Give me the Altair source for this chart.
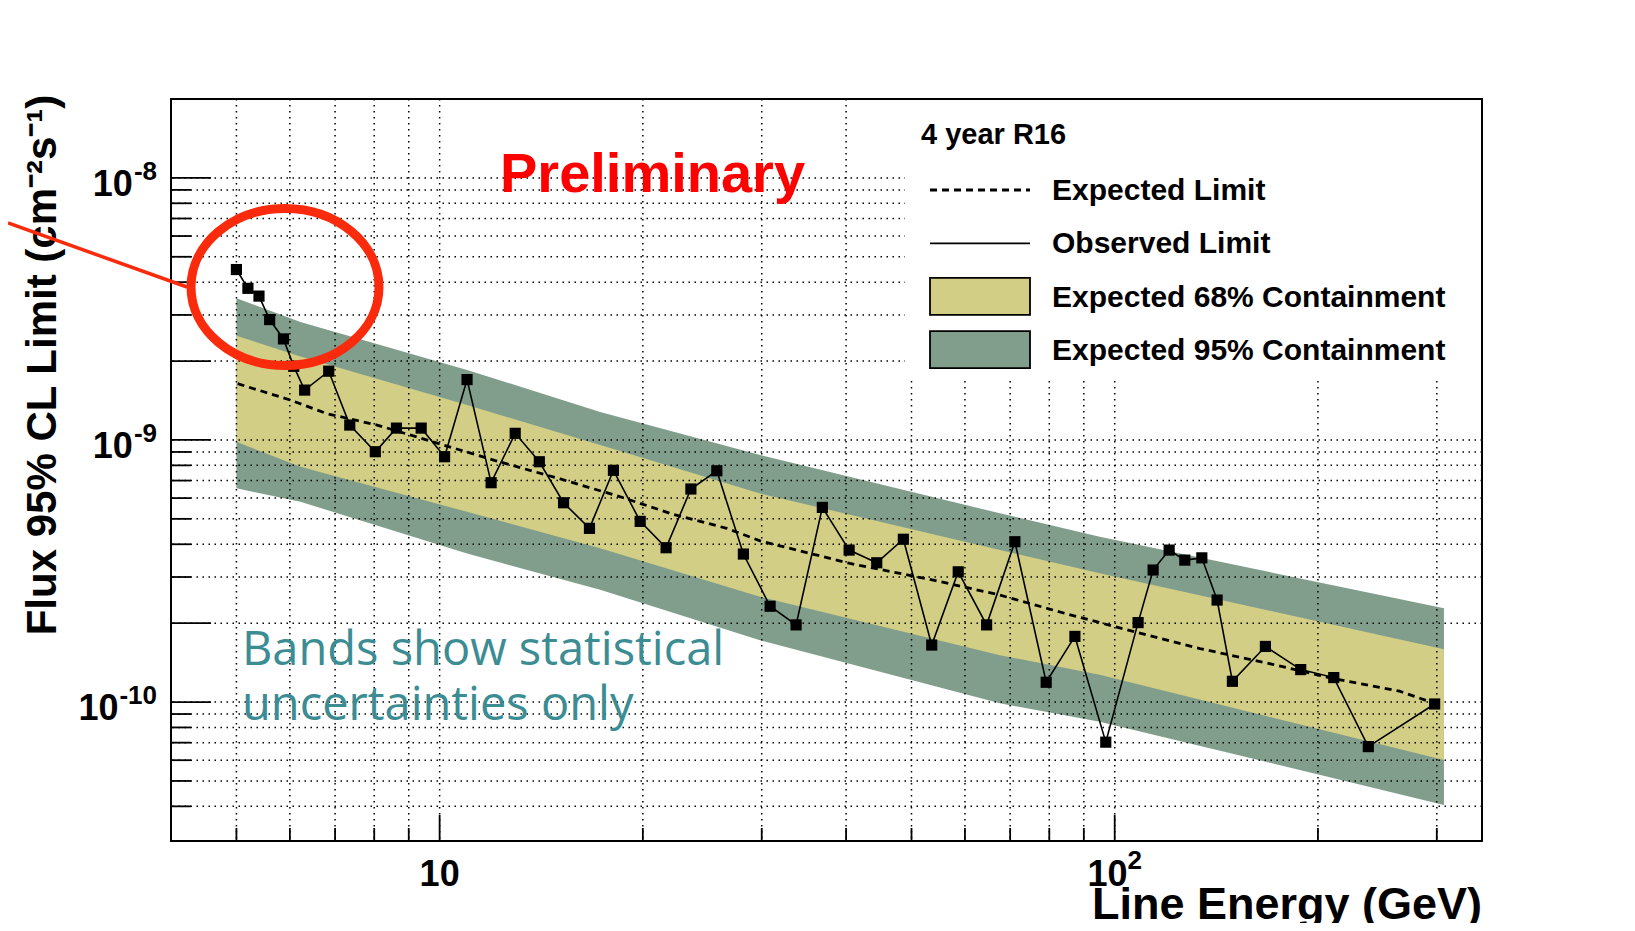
import altair as alt
import pandas as pd

# ---------------- data ----------------
obs_energy = [5.00, 5.20, 5.40, 5.60, 5.87, 6.08, 6.31, 6.85, 7.36, 8.03, 8.63, 9.39,
              10.17, 10.98, 11.92, 12.94, 14.05, 15.26, 16.67, 18.09, 19.82, 21.65,
              23.56, 25.74, 28.18, 30.87, 33.73, 36.89, 40.42, 44.41, 48.63, 53.57,
              58.64, 64.6, 71.14, 79.16, 87.3, 97.0, 108.3, 114.0, 120.4, 127.0,
              134.6, 141.8, 149.4, 167.2, 188.6, 211.1, 237.5, 297.8]
obs_limit = [4.47e-9, 3.79e-9, 3.54e-9, 2.88e-9, 2.43e-9, 1.91e-9, 1.55e-9, 1.83e-9,
             1.14e-9, 9.02e-10, 1.11e-9, 1.11e-9, 8.63e-10, 1.70e-9, 6.87e-10, 1.06e-9,
             8.26e-10, 5.76e-10, 4.60e-10, 7.66e-10, 4.89e-10, 3.88e-10, 6.50e-10,
             7.63e-10, 3.67e-10, 2.32e-10, 1.97e-10, 5.53e-10, 3.80e-10, 3.40e-10,
             4.18e-10, 1.65e-10, 3.14e-10, 1.97e-10, 4.09e-10, 1.19e-10, 1.78e-10,
             7.03e-11, 2.01e-10, 3.19e-10, 3.80e-10, 3.48e-10, 3.55e-10, 2.45e-10,
             1.20e-10, 1.63e-10, 1.33e-10, 1.24e-10, 6.76e-11, 9.83e-11]

exp_energy = [5.02, 6.01, 6.81, 8.08, 10.14, 12.02, 15.09, 18.52, 22.20, 26.63, 29.83,
              40.54, 53.86, 67.6, 84.9, 106.5, 133.7, 167.8, 210.6, 264.2, 295.7]
exp_limit = [1.64e-9, 1.42e-9, 1.26e-9, 1.14e-9, 9.56e-10, 8.38e-10, 7.10e-10, 6.07e-10,
             5.20e-10, 4.60e-10, 4.12e-10, 3.38e-10, 2.92e-10, 2.56e-10, 2.17e-10,
             1.86e-10, 1.60e-10, 1.41e-10, 1.23e-10, 1.10e-10, 9.95e-11]

band_energy = [5.0, 6.22, 10.98, 17.29, 29.83, 67.6, 95.0, 307.4]
band95_hi = [3.47e-9, 2.82e-9, 1.85e-9, 1.28e-9, 8.76e-10, 5.25e-10, 4.27e-10, 2.28e-10]
band68_hi = [2.50e-9, 2.08e-9, 1.36e-9, 9.56e-10, 6.25e-10, 3.80e-10, 3.10e-10, 1.59e-10]
band68_lo = [9.84e-10, 7.90e-10, 5.32e-10, 3.86e-10, 2.52e-10, 1.51e-10, 1.27e-10, 6.01e-11]
band95_lo = [6.54e-10, 5.81e-10, 3.69e-10, 2.68e-10, 1.72e-10, 9.89e-11, 8.42e-11, 4.05e-11]

x_grid = [5, 6, 7, 8, 9, 10, 20, 30, 40, 50, 60, 70, 80, 90, 100, 200, 300]
x_long_ticks = [10, 100]
y_grid = [4e-11, 5e-11, 6e-11, 7e-11, 8e-11, 9e-11,
          1e-10, 2e-10, 3e-10, 4e-10, 5e-10, 6e-10, 7e-10, 8e-10, 9e-10,
          1e-9, 2e-9, 3e-9, 4e-9, 5e-9, 6e-9, 7e-9, 8e-9, 9e-9, 1e-8]
y_long_ticks = [1e-10, 2e-10, 1e-9, 2e-9, 1e-8]

x_label_vals = [10, 100]
x_label_exp = ["", "2"]
y_label_vals = [1e-8, 1e-9, 1e-10]
y_label_exp = ["-8", "-9", "-10"]

legend_header = "4 year R16"
legend_labels = ["Expected Limit", "Observed Limit",
                 "Expected 68% Containment", "Expected 95% Containment"]
x_title = "Line Energy (GeV)"
y_title = "Flux 95% CL Limit (cm\u207b\u00b2s\u207b\u00b9)"
prelim_text = "Preliminary"
note_lines = ["Bands show statistical", "uncertainties only"]

# ---------------- style ----------------
W, H = 1311, 742
GREEN = "#809e8b"
YELLOW = "#d3ce86"
RED = "#fa2a0c"
TEAL = "#3c8c93"
FONT = "Liberation Sans"

xs = alt.Scale(type="log", domain=[4, 350], nice=False)
ys = alt.Scale(type="log", domain=[2.95e-11, 2e-8], nice=False)

band_df = pd.DataFrame({"e": band_energy, "h95": band95_hi, "l95": band95_lo,
                        "h68": band68_hi, "l68": band68_lo})
obs_df = pd.DataFrame({"e": obs_energy, "v": obs_limit})
exp_df = pd.DataFrame({"e": exp_energy, "v": exp_limit})
one = pd.DataFrame({"a": [0]})

X = lambda f: alt.X(f, type="quantitative", scale=xs, axis=None)
Y = lambda f: alt.Y(f, type="quantitative", scale=ys, axis=None)

layers = []
layers.append(alt.Chart(band_df).mark_area(color=GREEN, opacity=1).encode(
    x=X("e"), y=Y("h95"), y2="l95"))
layers.append(alt.Chart(band_df).mark_area(color=YELLOW, opacity=1).encode(
    x=X("e"), y=Y("h68"), y2="l68"))

# dotted grid
grid_style = dict(color="black", strokeWidth=1.5, strokeDash=[1.5, 4.5])
layers.append(alt.Chart(pd.DataFrame({"v": x_grid})).mark_rule(**grid_style).encode(x=X("v")))
layers.append(alt.Chart(pd.DataFrame({"v": y_grid})).mark_rule(**grid_style).encode(y=Y("v")))

# legend background box
layers.append(alt.Chart(one).mark_rect(color="white", opacity=1).encode(
    x=alt.value(734), x2=alt.value(W), y=alt.value(0), y2=alt.value(278)))

# inward ticks
tick_style = dict(color="black", strokeWidth=1.8)
y_short = [v for v in y_grid if v not in y_long_ticks]
x_short = [v for v in x_grid if v not in x_long_ticks]
layers.append(alt.Chart(pd.DataFrame({"v": y_long_ticks})).mark_rule(**tick_style).encode(
    y=Y("v"), x=alt.value(0), x2=alt.value(40)))
layers.append(alt.Chart(pd.DataFrame({"v": y_short})).mark_rule(**tick_style).encode(
    y=Y("v"), x=alt.value(0), x2=alt.value(20)))
layers.append(alt.Chart(pd.DataFrame({"v": x_long_ticks})).mark_rule(**tick_style).encode(
    x=X("v"), y=alt.value(H), y2=alt.value(H - 26)))
layers.append(alt.Chart(pd.DataFrame({"v": x_short})).mark_rule(**tick_style).encode(
    x=X("v"), y=alt.value(H), y2=alt.value(H - 13)))

# expected (dashed) and observed limits
layers.append(alt.Chart(exp_df).mark_line(color="black", strokeWidth=2.8, strokeDash=[7, 5]).encode(
    x=X("e"), y=Y("v")))
layers.append(alt.Chart(obs_df).mark_line(color="black", strokeWidth=1.6).encode(
    x=X("e"), y=Y("v")))
layers.append(alt.Chart(obs_df).mark_point(shape="square", filled=True, size=125,
                                           color="black", opacity=1).encode(x=X("e"), y=Y("v")))

# frame
layers.append(alt.Chart(one).mark_rect(fillOpacity=0, stroke="black", strokeWidth=2).encode(
    x=alt.value(0), x2=alt.value(W), y=alt.value(0), y2=alt.value(H)))

# legend
layers.append(alt.Chart(one).mark_text(text=legend_header, font=FONT, fontWeight="bold",
                                       fontSize=29, align="left", baseline="alphabetic",
                                       color="black").encode(x=alt.value(750), y=alt.value(45)))
row_y = [91 + i * 53.4 for i in range(len(legend_labels))]
for lab, ry in zip(legend_labels, row_y):
    layers.append(alt.Chart(one).mark_text(text=lab, font=FONT, fontWeight="bold", fontSize=30,
                                           align="left", baseline="alphabetic", color="black")
                  .encode(x=alt.value(881), y=alt.value(ry + 10)))
layers.append(alt.Chart(one).mark_rule(color="black", strokeWidth=2.8, strokeDash=[7, 5]).encode(
    x=alt.value(759), x2=alt.value(859), y=alt.value(row_y[0]), y2=alt.value(row_y[0])))
layers.append(alt.Chart(one).mark_rule(color="black", strokeWidth=1.6).encode(
    x=alt.value(759), x2=alt.value(859), y=alt.value(row_y[1]), y2=alt.value(row_y[1])))
for col, ry in ((YELLOW, row_y[2]), (GREEN, row_y[3])):
    layers.append(alt.Chart(one).mark_rect(fill=col, stroke="black", strokeWidth=1.8, opacity=1).encode(
        x=alt.value(759), x2=alt.value(859), y=alt.value(ry - 19), y2=alt.value(ry + 18)))

# "Preliminary"
layers.append(alt.Chart(one).mark_text(text=prelim_text, font=FONT, fontWeight="bold", fontSize=56,
                                       color="#ff0000", align="left", baseline="alphabetic")
              .encode(x=alt.value(329), y=alt.value(93)))
# note
for i, line in enumerate(note_lines):
    layers.append(alt.Chart(one).mark_text(text=line, font="Open Sans", fontSize=47, color=TEAL,
                                           align="left", baseline="alphabetic")
                  .encode(x=alt.value(71), y=alt.value(566 + 55 * i)))

# tick labels (ROOT style 10^n)
BASE_FS, EXP_FS = 36, 26
w_base = BASE_FS * 1.112
for v, e in zip(x_label_vals, x_label_exp):
    w_exp = EXP_FS * 0.556 * len(e)
    off = (w_base - w_exp) / 2
    d = pd.DataFrame({"v": [v]})
    layers.append(alt.Chart(d).mark_text(text="10", font=FONT, fontWeight="bold", fontSize=BASE_FS,
                                         align="right", baseline="alphabetic", dx=off, color="black")
                  .encode(x=X("v"), y=alt.value(787)))
    if e:
        layers.append(alt.Chart(d).mark_text(text=e, font=FONT, fontWeight="bold", fontSize=EXP_FS,
                                             align="left", baseline="alphabetic", dx=off, color="black")
                      .encode(x=X("v"), y=alt.value(770)))
for v, e in zip(y_label_vals, y_label_exp):
    w_exp = EXP_FS * (0.333 * e.count("-") + 0.556 * sum(c.isdigit() for c in e))
    d = pd.DataFrame({"v": [v]})
    layers.append(alt.Chart(d).mark_text(text=e, font=FONT, fontWeight="bold", fontSize=EXP_FS,
                                         align="right", baseline="alphabetic", dy=2, color="black")
                  .encode(y=Y("v"), x=alt.value(-14)))
    layers.append(alt.Chart(d).mark_text(text="10", font=FONT, fontWeight="bold", fontSize=BASE_FS,
                                         align="right", baseline="alphabetic", dy=18, color="black")
                  .encode(y=Y("v"), x=alt.value(-14 - w_exp - 1)))

# axis titles
layers.append(alt.Chart(one).mark_text(text=x_title, font=FONT, fontWeight="bold", fontSize=45,
                                       align="right", baseline="alphabetic", color="black")
              .encode(x=alt.value(W), y=alt.value(820)))
layers.append(alt.Chart(one).mark_text(text=y_title, font=FONT, fontWeight="bold", fontSize=42,
                                       align="center", baseline="alphabetic", angle=270, color="black")
              .encode(x=alt.value(-115), y=alt.value(266)))

# red annotation
layers.append(alt.Chart(one).mark_rule(color=RED, strokeWidth=3.5).encode(
    x=alt.value(-163), y=alt.value(124), x2=alt.value(16), y2=alt.value(188)))
layers.append(alt.Chart(one).mark_point(
    shape="M -1 0 A 1 0.835 0 1 0 1 0 A 1 0.835 0 1 0 -1 0 Z", size=35344, filled=False,
    stroke=RED, strokeWidth=9, opacity=1).encode(x=alt.value(114), y=alt.value(188)))

chart = alt.layer(*layers).properties(
    width=W, height=H,
    padding={"left": 163, "top": 91, "right": 140, "bottom": 82},
    autosize=alt.AutoSizeParams(type="none"),
    background="white",
).configure_view(strokeWidth=0)

chart.save("out.html", embed_options={"renderer": "svg", "actions": False})
